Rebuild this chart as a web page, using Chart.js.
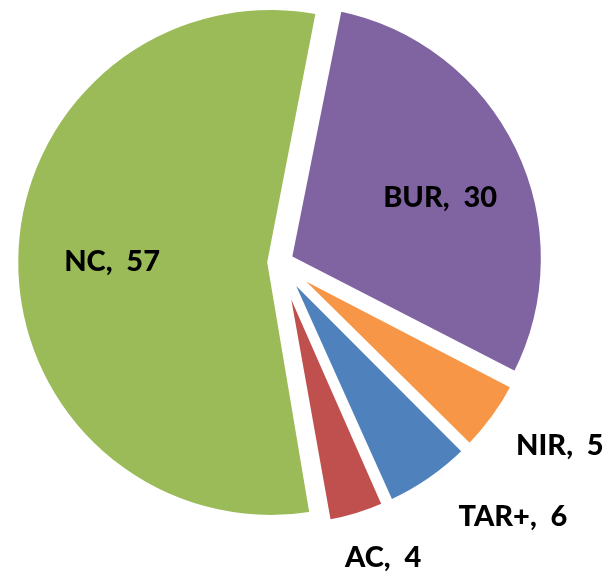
<!DOCTYPE html>
<html>
<head>
<meta charset="utf-8">
<script src="https://cdn.jsdelivr.net/npm/chart.js@4.4.0/dist/chart.umd.min.js"></script>
<style>
  html, body { margin: 0; padding: 0; background: #fff; }
  #wrap { width: 609px; height: 572px; }
</style>
</head>
<body>
<div id="wrap"><canvas id="pie" width="609" height="572"></canvas></div>
<script>
var categories = ['BUR', 'NIR', 'TAR+', 'AC', 'NC'];
var counts = [30, 5, 6, 4, 57];
var sliceColors = ['#8064A2', '#F79646', '#4F81BD', '#C0504D', '#9BBB59'];

// label spot per slice: angle (deg, clockwise from top), distance as share of radius
var labelSpots = [[67.7, 0.676], [123.1, 1.305], [137.4, 1.344], [160.7, 1.219], [270.5, 0.656]];

var explode = 37; // chart.js moves a slice by offset/4

// chart.js also grows the radius of an offset slice, take that back out
var evenRadius = {
    id: 'evenRadius',
    afterDatasetUpdate: function (chart, args) {
        args.meta.data.forEach(function (arc) {
            var fix = 1 - Math.sin(Math.min(Math.PI, arc.circumference));
            arc.outerRadius -= (arc.options.offset / 4) * fix;
        });
    }
};

var sliceLabels = {
    id: 'sliceLabels',
    afterDatasetsDraw: function (chart) {
        var ctx = chart.ctx;
        var meta = chart.getDatasetMeta(0);
        var R = meta.controller.outerRadius;
        ctx.save();
        ctx.font = '900 29px Lato';
        ctx.fillStyle = '#000';
        ctx.textAlign = 'center';
        ctx.textBaseline = 'alphabetic';
        meta.data.forEach(function (arc, i) {
            var a = (labelSpots[i][0] - 90) * Math.PI / 180;
            var r = labelSpots[i][1] * R;
            ctx.fillText(categories[i] + ',  ' + counts[i],
                arc.x + Math.cos(a) * r, arc.y + Math.sin(a) * r + 10.3);
        });
        ctx.restore();
    }
};

new Chart(document.getElementById('pie'), {
    type: 'pie',
    data: {
        labels: categories,
        datasets: [{
            data: counts,
            backgroundColor: sliceColors,
            borderColor: '#ffffff',
            borderWidth: 7,
            hoverBorderWidth: 7,
            borderJoinStyle: 'miter',
            offset: explode,
            hoverOffset: explode
        }]
    },
    options: {
        responsive: false,
        animation: false,
        events: [],
        rotation: 11.3,
        radius: 256,
        layout: { padding: { top: 0, bottom: 47, left: 0, right: 49 } },
        plugins: {
            legend: { display: false },
            tooltip: { enabled: false }
        }
    },
    plugins: [evenRadius, sliceLabels]
});
</script>
</body>
</html>
